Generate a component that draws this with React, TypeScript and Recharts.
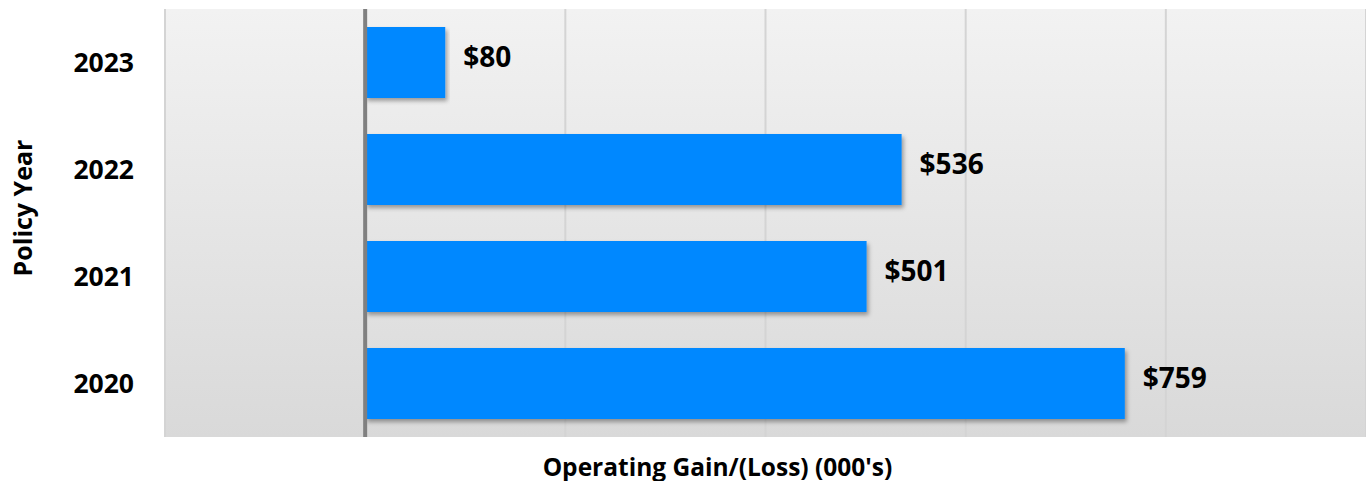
import React from 'react';
import { BarChart, Bar, XAxis, YAxis, CartesianGrid, ReferenceLine, LabelList } from 'recharts';

const years = ['2023', '2022', '2021', '2020'];
const gains = [80, 536, 501, 759];
const xTicks = [-200, 0, 200, 400, 600, 800, 1000];
const xTitle = "Operating Gain/(Loss) (000's)";
const yTitle = 'Policy Year';

const data = years.map((y, i) => ({ year: y, gain: gains[i] }));

const FONT = '"Open Sans", sans-serif';

const ValueLabel = (props: any) => {
  const { x, y, width, height, value } = props;
  return (
    <text x={x + width + 18} y={y + height / 2 - 7} dominantBaseline="central" textAnchor="start"
      fontFamily={FONT} fontWeight={700} fontSize={28} fill="#000">
      {`$${value}`}
    </text>
  );
};

const EmptyTick = () => <g />;

export default function App() {
  return (
    <div style={{ position: 'absolute', left: 0, top: 0 }}>
      <BarChart width={1366} height={481} data={data} layout="vertical"
        margin={{ top: 9, right: 0, bottom: 0, left: 0 }}>
        <defs>
          <linearGradient id="bgGrad" x1="0" y1="0" x2="0" y2="1">
            <stop offset="0%" stopColor="#f2f2f2" />
            <stop offset="100%" stopColor="#d9d9d9" />
          </linearGradient>
          <filter id="shadow" x="-5%" y="-20%" width="110%" height="150%">
            <feDropShadow dx="2" dy="3" stdDeviation="2" floodColor="#000" floodOpacity="0.35" />
          </filter>
        </defs>
        <CartesianGrid horizontal={false} vertical={true} stroke="#d4d4d4" strokeWidth={2}
          fill="url(#bgGrad)" fillOpacity={1} />
        <XAxis type="number" domain={[-200, 1000]} ticks={xTicks} tick={EmptyTick} axisLine={false}
          tickLine={false} height={44} interval={0}
          label={(p: any) => {
            const vb = p.viewBox;
            return (
              <text x={vb.x + vb.width / 2 - 48} y={vb.y + 29} textAnchor="middle" dominantBaseline="central"
                fontFamily={FONT} fontWeight={700} fontSize={24.5} fill="#000">{xTitle}</text>
            );
          }} />
        <YAxis type="category" dataKey="year" width={165} axisLine={false} tickLine={false}
          tickSize={0} tickMargin={31}
          tick={{ fontFamily: FONT, fontWeight: 700, fontSize: 26.5, fill: '#000' }}
          label={(p: any) => {
            const vb = p.viewBox;
            const cx = 22;
            const cy = vb.y + vb.height / 2 - 15;
            return (
              <text x={cx} y={cy} textAnchor="middle" dominantBaseline="central"
                transform={`rotate(-90 ${cx} ${cy})`}
                fontFamily={FONT} fontWeight={700} fontSize={25} fill="#000">{yTitle}</text>
            );
          }} />
        <Bar dataKey="gain" fill="#0088ff" barSize={71} isAnimationActive={false}
          style={{ filter: 'url(#shadow)' }}>
          <LabelList dataKey="gain" content={ValueLabel} />
        </Bar>
        <ReferenceLine x={0} stroke="#808080" strokeWidth={4} />
      </BarChart>
    </div>
  );
}
